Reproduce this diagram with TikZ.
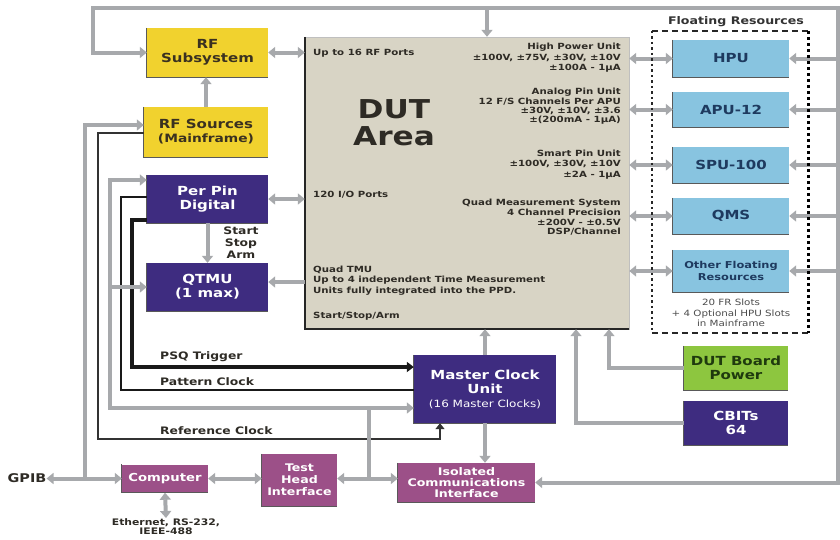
\documentclass[tikz,border=0pt]{standalone}
\usepackage{fontspec}
\setmainfont{DejaVu Sans}[FakeStretch=1.2]
\usetikzlibrary{arrows.meta}
\newcommand\fsz[2]{\fontsize{#1}{#2}\selectfont}
\definecolor{lgray}{HTML}{A7A9AC}
\definecolor{rfy}{HTML}{F1D22E}
\definecolor{ytxt}{HTML}{3A3120}
\definecolor{pur}{HTML}{3E2C80}
\definecolor{lblu}{HTML}{88C4E0}
\definecolor{btxt}{HTML}{1E3A5F}
\definecolor{grn}{HTML}{8DC63F}
\definecolor{gtxt}{HTML}{1F3A0E}
\definecolor{mauve}{HTML}{9C5088}
\definecolor{beige}{HTML}{D8D4C5}
\definecolor{dtc}{HTML}{2E2B25}
\tikzset{
  box/.style={rectangle, inner sep=0pt, align=center, font=\bfseries\fsz{12.5}{14}},
  ybox/.style={box, fill=rfy, text=ytxt},
  pbox/.style={box, fill=pur, text=white},
  bbox/.style={box, fill=lblu, text=btxt, minimum width=116pt},
  mbox/.style={box, fill=mauve, text=white},
  dtxt/.style={font=\bfseries\fsz{8.5}{10.5}, text=dtc, inner sep=0pt},
  ltxt/.style={font=\bfseries\fsz{10.3}{12}, text=dtc, inner sep=0pt},
  gl/.style={draw=lgray, line width=4pt},
  ga/.style={gl, -{Triangle[length=7pt,width=11pt]}},
  gd/.style={gl, {Triangle[length=7pt,width=11pt]}-{Triangle[length=7pt,width=11pt]}},
  psq/.style={draw=black!90, line width=3.5pt, -{Triangle[length=7pt,width=10pt]}},
  pclk/.style={draw=black!90, line width=2.5pt},
  refc/.style={draw=black!80, line width=2pt, -{Triangle[length=6pt,width=9pt]}},
  edgeshade/.style={draw=black!65, line width=1.2pt},
}
\begin{document}
\begin{tikzpicture}[x=1pt,y=-1pt]
\useasboundingbox (0,0) rectangle (840,539);
\fill[white] (0,0) rectangle (840,539);

% ---- boxes
\node[ybox, minimum width=121pt, minimum height=49pt] (rfsub) at (207.5,52.5) {RF\\Subsystem};
\node[ybox, minimum width=124pt, minimum height=50pt] (rfsrc) at (206,132) {RF Sources\\{\fsz{11.5}{13}(Mainframe)}};
\node[pbox, minimum width=121pt, minimum height=48pt] (ppd) at (207.5,199) {Per Pin\\Digital};
\node[pbox, minimum width=121pt, minimum height=48pt] (qtmu) at (207.5,287) {QTMU\\(1 max)};
\node[fill=beige, draw=black!25, minimum width=324pt, minimum height=292pt, inner sep=0pt] (dut) at (467,183) {};
\draw[black!85, line width=2.5pt] (dut.north west) -- (dut.south west) -- (dut.south east);

\node[bbox, minimum height=37pt] (hpu) at (731,58.5) {HPU};
\node[bbox, minimum height=35pt] (apu) at (731,109.5) {APU-12};
\node[bbox, minimum height=36pt] (spu) at (731,165) {SPU-100};
\node[bbox, minimum height=36pt] (qms) at (731,216) {QMS};
\node[bbox, minimum height=42pt, font=\bfseries\fsz{9.5}{11.5}] (oth) at (731,271) {Other Floating\\Resources};

\node[box, fill=grn, text=gtxt, minimum width=104pt, minimum height=44pt] (dbp) at (736,368) {DUT Board\\Power};
\node[pbox, minimum width=104pt, minimum height=44pt] (cbit) at (736,423) {CBITs\\64};
\node[pbox, minimum width=142pt, minimum height=68pt] (mcu) at (485,389) {Master Clock\\Unit\\{\mdseries\fsz{10}{12}(16 Master Clocks)}};
\node[mbox, minimum width=137pt, minimum height=39pt, font=\bfseries\fsz{10.5}{11}] (ici) at (466.5,482.5) {Isolated\\Communications\\Interface};
\node[mbox, minimum width=75pt, minimum height=52pt, font=\bfseries\fsz{10.5}{12}] (thi) at (299.5,480) {Test\\Head\\Interface};
\node[mbox, minimum width=86pt, minimum height=28pt, font=\bfseries\fsz{11}{13}] (comp) at (165,478.5) {Computer};

\foreach \n in {rfsub,rfsrc,ppd,qtmu,hpu,apu,spu,qms,oth,dbp,cbit,mcu,ici,thi,comp}
  \draw[edgeshade] (\n.north west) -- (\n.south west) -- (\n.south east);

% ---- DUT texts
\node[font=\bfseries\fsz{26}{27}, text=dtc, align=center, inner sep=0pt] (duttitle) at (394,123) {DUT\\Area};
\node[dtxt, anchor=west] (rfports) at (313,53) {Up to 16 RF Ports};
\node[dtxt, anchor=east, align=right] (thpu) at (621,58) {High Power Unit\\±100V, ±75V, ±30V, ±10V\\±100A - 1µA};
\node[dtxt, anchor=east, align=right, font=\bfseries\fsz{8.5}{9.3}] (tapu) at (621,106.5) {Analog Pin Unit\\12 F/S Channels Per APU\\±30V, ±10V, ±3.6\\±(200mA - 1µA)};
\node[dtxt, anchor=east, align=right] (tspu) at (621,164.5) {Smart Pin Unit\\±100V, ±30V, ±10V\\±2A - 1µA};
\node[dtxt, anchor=west] (tio) at (313,195) {120 I/O Ports};
\node[dtxt, anchor=east, align=right, font=\bfseries\fsz{8.5}{9.7}] (tqms) at (621,217.5) {Quad Measurement System\\4 Channel Precision\\±200V - ±0.5V\\DSP/Channel};
\node[dtxt, anchor=west, align=left] (ttmu) at (313,280.5) {Quad TMU\\Up to 4 independent Time Measurement\\Units fully integrated into the PPD.};
\node[dtxt, anchor=west] (tssa) at (313,316) {Start/Stop/Arm};

% ---- other labels
\node[ltxt, align=center] (ssa) at (241,243) {Start\\Stop\\Arm};
\node[ltxt, anchor=west] (lpsq) at (160,357) {PSQ Trigger};
\node[ltxt, anchor=west] (lpat) at (160,382) {Pattern Clock};
\node[ltxt, anchor=west] (lref) at (160,431) {Reference Clock};
\node[font=\bfseries\fsz{12}{14}, text=dtc, inner sep=0pt] (gpib) at (27,478.5) {GPIB};
\node[font=\bfseries\fsz{9}{9.5}, text=dtc, align=center, anchor=north, inner sep=0pt] (eth) at (166,518) {Ethernet, RS-232,\\IEEE-488};
\node[font=\bfseries\fsz{10.5}{12}, text=black!80, inner sep=0pt] (frt) at (736,22) {Floating Resources};
\node[font=\fsz{8.6}{10.3}, text=black!70, align=center, inner sep=0pt] (slots) at (731,313) {20 FR Slots\\+ 4 Optional HPU Slots\\in Mainframe};

% ---- black clock lines
\draw[pclk] ([yshift=2pt]ppd.west) -| (121,390) -- ([yshift=-1pt]mcu.west);
\draw[psq] ([yshift=-21pt]ppd.west) -| (132,367) -- ([yshift=22pt]mcu.west);
\draw[refc] ([yshift=-1pt]rfsrc.west) -| (98,439) -| ([xshift=-45pt]mcu.south);

% ---- gray connectors
\coordinate (tl) at (93,8);
\coordinate (tr) at (838,8);
\coordinate (tdut) at (487,8);
\draw[gd] (rfsub.west) -| (tl) -- (tr) |- (ici.east);
\draw[ga] (tdut) -- (tdut |- dut.north);
\foreach \b in {hpu,apu,spu,qms,oth}{
  \draw[ga] (\b.east -| tr) -- (\b.east);
  \draw[gd] (dut.east |- \b.west) -- (\b.west);
}
\draw[gd] (rfsub.east) -- (rfsub.east -| dut.west);
\draw[ga] (rfsrc.north) -- (rfsrc.north |- rfsub.south);
\draw[gd] (ppd.east) -- (ppd.east -| dut.west);
\draw[ga] ([yshift=5pt]qtmu.east -| dut.west) -- ([yshift=5pt]qtmu.east);
\draw[ga] (ppd.south) -- (qtmu.north);

\coordinate (g1) at (85,478.5);
\coordinate (t1) at (369,478.5);
\draw[ga] (g1) |- ([yshift=7pt]rfsrc.west);
\draw[ga] (t1) |- ([yshift=-19pt]mcu.west);
\draw[ga] (t1) |- (110,408) |- ([yshift=19pt]ppd.west);
\draw[ga] (qtmu.west -| 110,0) -- (qtmu.west);
\draw[gd] (gpib.east) -- (comp.west);
\draw[gd] (comp.east) -- (thi.west |- comp.east);
\draw[gd] (thi.east |- comp.east) -- (ici.west |- comp.east);
\draw[gd] (comp.south) -- (eth.north);
\draw[ga] (mcu.south) -- (mcu.south |- ici.north);
\draw[ga] (mcu.north) -- (mcu.north |- dut.south);
\draw[ga] (dbp.west) -| (dut.south -| 609,0);
\draw[ga] (cbit.west) -| (dut.south -| 576,0);

% ---- floating resources frame
\node[minimum width=156pt, minimum height=302pt, inner sep=0pt] (fr) at (730,182) {};
\draw[black!85, line width=2.5pt, dash pattern=on 6pt off 4pt] (fr.north west) -- (fr.north east);
\draw[black!85, line width=2.5pt, dash pattern=on 6pt off 4pt] (fr.south west) -- (fr.south east);
\draw[black!85, line width=2.2pt, dash pattern=on 2.5pt off 3pt] (fr.north west) -- (fr.south west);
\draw[black, line width=3.2pt, dash pattern=on 3pt off 3pt] (fr.north east) -- (fr.south east);
\end{tikzpicture}
\end{document}
